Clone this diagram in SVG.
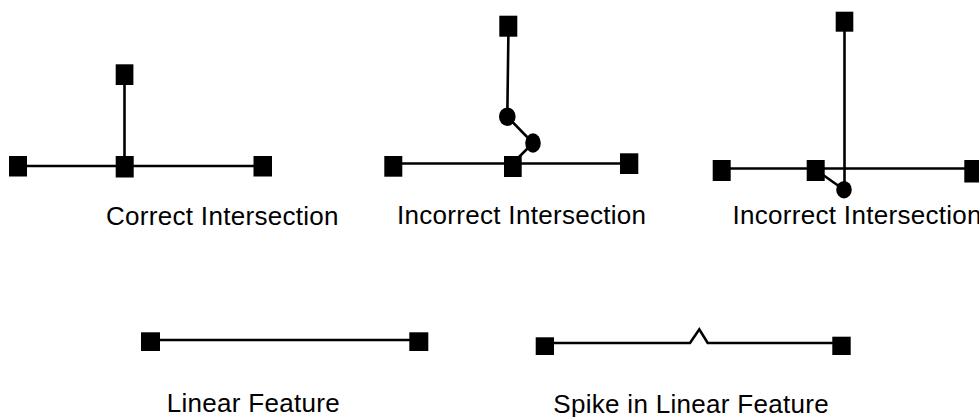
<svg xmlns="http://www.w3.org/2000/svg" width="979" height="417" viewBox="0 0 979 417">
<style>
.ln{stroke:#000;stroke-width:2.6;fill:none}
.sq{fill:#000}
.pt{fill:#000}
.lbl{font-family:"Liberation Sans",Arial,sans-serif;font-size:26px;letter-spacing:0.3px;fill:#000}
</style>
<rect width="979" height="417" fill="#fff"/>
<g id="connectors">
<line class="ln" x1="18" y1="166" x2="263" y2="166"/>
<line class="ln" x1="124.5" y1="75" x2="124.5" y2="166"/>
<line class="ln" x1="393" y1="163.5" x2="629" y2="163.5"/>
<polyline class="ln" points="508.5,26 507.3,116.7 533,143 513,163"/>
<line class="ln" x1="722" y1="168.5" x2="973" y2="168.5"/>
<line class="ln" x1="844.5" y1="21" x2="844.5" y2="189.7"/>
<line class="ln" x1="816" y1="170" x2="844" y2="189.7"/>
<line class="ln" x1="150" y1="340" x2="419" y2="340"/>
<polyline class="ln" points="545,343 690,343 699.3,329.3 707.7,343 841.5,343"/>
</g>
<g id="correct">
<rect class="sq" x="9" y="156" width="18" height="20.5"/>
<rect class="sq" x="115.7" y="156" width="18" height="21.5"/>
<rect class="sq" x="253.5" y="156" width="18.5" height="20.5"/>
<rect class="sq" x="115.7" y="64.3" width="17.7" height="20.7"/>
<text class="lbl" x="106" y="225">Correct Intersection</text>
</g>
<g id="incorrect1">
<rect class="sq" x="384.3" y="156" width="18" height="20.7"/>
<rect class="sq" x="504" y="156" width="17.7" height="21"/>
<rect class="sq" x="620" y="153.3" width="18.3" height="20.7"/>
<rect class="sq" x="499.3" y="15.7" width="18" height="21"/>
<ellipse class="pt" cx="507.3" cy="116.7" rx="8.3" ry="9.3"/>
<ellipse class="pt" cx="533" cy="143" rx="7.8" ry="9.7"/>
<text class="lbl" x="397" y="224">Incorrect Intersection</text>
</g>
<g id="incorrect2">
<rect class="sq" x="712.7" y="160" width="18" height="21"/>
<rect class="sq" x="806.7" y="160" width="18" height="21"/>
<rect class="sq" x="964.3" y="160" width="18" height="22.5"/>
<rect class="sq" x="835.7" y="11.7" width="17.6" height="20"/>
<ellipse class="pt" cx="844" cy="189.7" rx="7.8" ry="8.7"/>
<text class="lbl" x="732.5" y="224">Incorrect Intersection</text>
</g>
<g id="linear">
<rect class="sq" x="141" y="332.3" width="19" height="18.7"/>
<rect class="sq" x="409.3" y="332.3" width="19" height="18.7"/>
<text class="lbl" x="166.7" y="411.7">Linear Feature</text>
</g>
<g id="spike">
<rect class="sq" x="535.7" y="337.3" width="18.3" height="17.7"/>
<rect class="sq" x="832.3" y="336.7" width="18.4" height="18.3"/>
<text class="lbl" x="553.3" y="412.5">Spike in Linear Feature</text>
</g>
</svg>
